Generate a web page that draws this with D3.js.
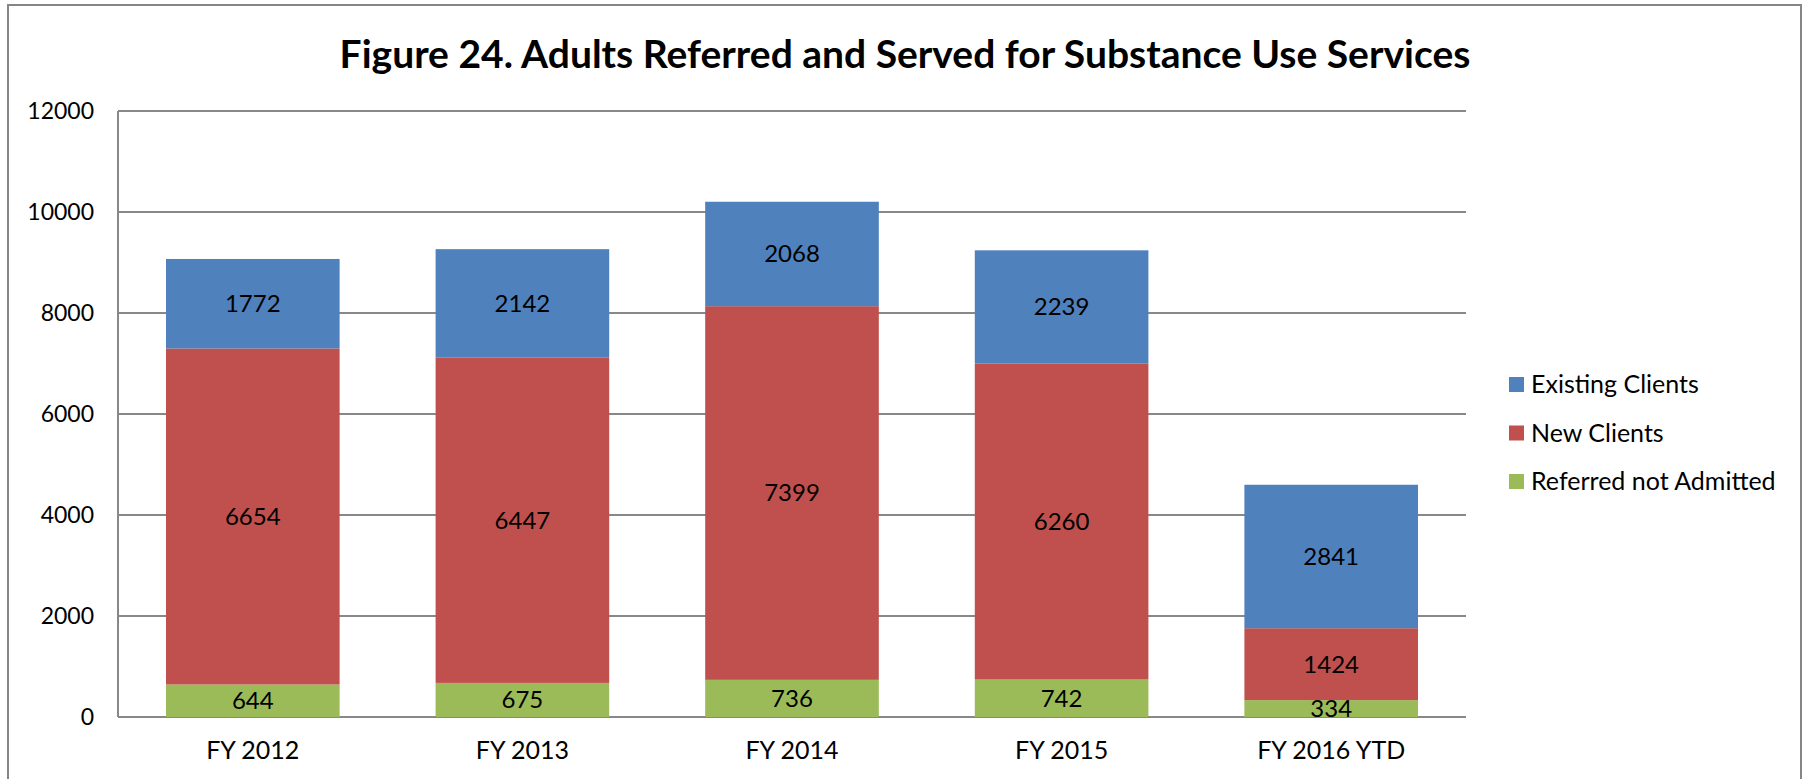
<!DOCTYPE html>
<meta charset="utf-8">
<style>
body { margin: 0; background: white; }
text { font-family: Lato, "Open Sans", sans-serif; fill: #000; }
</style>
<body>
<script src="https://d3js.org/d3.v7.min.js"></script>
<script>
// chart values
var categories = ["FY 2012", "FY 2013", "FY 2014", "FY 2015", "FY 2016 YTD"];
var referredNotAdmitted = [644, 675, 736, 742, 334];
var newClients = [6654, 6447, 7399, 6260, 1424];
var existingClients = [1772, 2142, 2068, 2239, 2841];
var yTicks = [0, 2000, 4000, 6000, 8000, 10000, 12000];

var seriesNames = ["Referred not Admitted", "New Clients", "Existing Clients"];
var colors = { "Referred not Admitted": "#9BBB59", "New Clients": "#C0504D", "Existing Clients": "#4F81BD" };

var width = 1803, height = 779;
var plot = { left: 118, right: 1466, top: 111, bottom: 717 };

// build rows for d3.stack
var rows = categories.map(function(c, i) {
  return {
    cat: c,
    "Referred not Admitted": referredNotAdmitted[i],
    "New Clients": newClients[i],
    "Existing Clients": existingClients[i]
  };
});

var svg = d3.select("body").append("svg")
    .attr("width", width)
    .attr("height", height);

// outer frame
svg.append("rect")
    .attr("x", 8).attr("y", 5)
    .attr("width", 1793).attr("height", 800)
    .attr("fill", "none")
    .attr("stroke", "#868686")
    .attr("stroke-width", 2);

var x = d3.scaleBand()
    .domain(categories)
    .range([plot.left, plot.right])
    .paddingInner(0.356)
    .paddingOuter(0.178);

var y = d3.scaleLinear()
    .domain([0, 12000])
    .range([plot.bottom, plot.top]);

// gridlines
svg.append("g").selectAll("line")
    .data(yTicks)
  .enter().append("line")
    .attr("x1", plot.left).attr("x2", plot.right)
    .attr("y1", function(d) { return y(d); })
    .attr("y2", function(d) { return y(d); })
    .attr("stroke", "#888")
    .attr("stroke-width", 2);

// left axis line
svg.append("line")
    .attr("x1", plot.left).attr("x2", plot.left)
    .attr("y1", plot.top).attr("y2", plot.bottom)
    .attr("stroke", "#888")
    .attr("stroke-width", 2);

// y tick labels
svg.append("g").selectAll("text")
    .data(yTicks)
  .enter().append("text")
    .attr("x", 94)
    .attr("y", function(d) { return y(d); })
    .attr("dy", "0.35em")
    .attr("text-anchor", "end")
    .style("font-size", "23px")
    .text(function(d) { return d; });

var stack = d3.stack().keys(seriesNames);
var layers = stack(rows);

var layer = svg.append("g").selectAll("g")
    .data(layers)
  .enter().append("g")
    .attr("fill", function(d) { return colors[d.key]; });

layer.selectAll("rect")
    .data(function(d) { return d; })
  .enter().append("rect")
    .attr("x", function(d) { return x(d.data.cat); })
    .attr("y", function(d) { return y(d[1]); })
    .attr("width", x.bandwidth())
    .attr("height", function(d) { return y(d[0]) - y(d[1]); });

// value labels centred in each segment
layer.selectAll("text")
    .data(function(d) { return d.map(function(p) { p.key = d.key; return p; }); })
  .enter().append("text")
    .attr("x", function(d) { return x(d.data.cat) + x.bandwidth() / 2; })
    .attr("y", function(d) { return (y(d[0]) + y(d[1])) / 2; })
    .attr("dy", "0.35em")
    .attr("text-anchor", "middle")
    .style("font-size", "24px")
    .text(function(d) { return d.data[d.key]; });

// category labels
svg.append("g").selectAll("text")
    .data(categories)
  .enter().append("text")
    .attr("x", function(d) { return x(d) + x.bandwidth() / 2; })
    .attr("y", 759)
    .attr("text-anchor", "middle")
    .style("font-size", "25px")
    .text(function(d) { return d; });

// title
svg.append("text")
    .attr("x", 905)
    .attr("y", 68)
    .attr("text-anchor", "middle")
    .style("font-size", "39px")
    .style("font-weight", "bold")
    .text("Figure 24. Adults Referred and Served for Substance Use Services");

// legend, top entry is the top of the stack
var legendNames = seriesNames.slice().reverse();
var legend = svg.append("g").selectAll("g")
    .data(legendNames)
  .enter().append("g")
    .attr("transform", function(d, i) { return "translate(1509," + (377 + i * 48.5) + ")"; });

legend.append("rect")
    .attr("width", 15).attr("height", 15)
    .attr("fill", function(d) { return colors[d]; });

legend.append("text")
    .attr("x", 22)
    .attr("y", 7.5)
    .attr("dy", "0.35em")
    .style("font-size", "25px")
    .text(function(d) { return d; });
</script>
</body>
